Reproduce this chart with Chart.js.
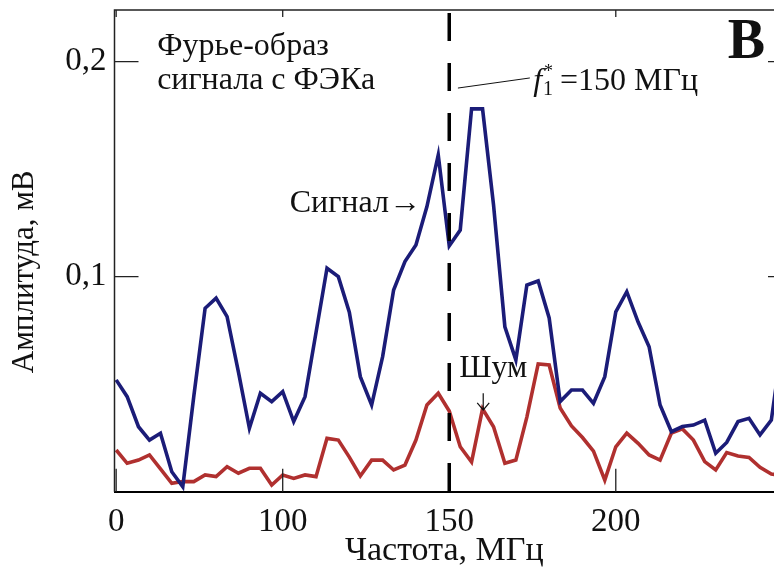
<!DOCTYPE html>
<html lang="ru">
<head>
<meta charset="utf-8">
<title>Фурье-образ сигнала с ФЭКа</title>
<script src="https://cdn.jsdelivr.net/npm/chart.js@4"></script>
<style>
  html, body { margin: 0; padding: 0; background: #ffffff; }
  #wrap { width: 774px; height: 577px; }
</style>
</head>
<body>
<div id="wrap"><canvas id="chart" width="774" height="577"></canvas></div>
<script>
// Частоты отсчётов спектра, МГц
const freq = [
  50, 53.3, 56.7, 60, 63.3, 66.7, 70, 73.3, 76.7, 80,
  83.3, 86.7, 90, 93.3, 96.7, 100, 103.3, 106.7, 110, 113.3,
  116.7, 120, 123.3, 126.7, 130, 133.3, 136.7, 140, 143.3, 146.7,
  150, 153.3, 156.7, 160, 163.3, 166.7, 170, 173.3, 176.7, 180,
  183.3, 186.7, 190, 193.3, 196.7, 200, 203.3, 206.7, 210, 213.3,
  216.7, 220, 223.3, 226.7, 230, 233.3, 236.7, 240, 243.3, 246.7,
  250
];

// Амплитуда сигнала, мВ
const signal = [
  0.0520, 0.0442, 0.0302, 0.0240, 0.0272, 0.0093, 0.0023, 0.0443, 0.0853, 0.0900,
  0.0814, 0.0557, 0.0295, 0.0458, 0.0419, 0.0465, 0.0326, 0.0442, 0.0740, 0.1039,
  0.1000, 0.0835, 0.0535, 0.0403, 0.0628, 0.0938, 0.1070, 0.1147, 0.1326, 0.1566,
  0.1143, 0.1217, 0.1780, 0.1780, 0.1333, 0.0767, 0.0613, 0.0961, 0.0980, 0.0808,
  0.0419, 0.0473, 0.0473, 0.0411, 0.0535, 0.0836, 0.0930, 0.0789, 0.0674, 0.0403,
  0.0279, 0.0303, 0.0310, 0.0333, 0.0179, 0.0229, 0.0326, 0.0341, 0.0264, 0.0333,
  0.0700
];

// Амплитуда шума, мВ
const noise = [
  0.0194, 0.0132, 0.0147, 0.0171, 0.0106, 0.0039, 0.0047, 0.0047, 0.0078, 0.0070,
  0.0116, 0.0086, 0.0109, 0.0109, 0.0031, 0.0078, 0.0062, 0.0078, 0.0070, 0.0248,
  0.0240, 0.0161, 0.0073, 0.0147, 0.0147, 0.0101, 0.0124, 0.0240, 0.0403, 0.0458,
  0.0375, 0.0209, 0.0138, 0.0385, 0.0302, 0.0132, 0.0147, 0.0347, 0.0594, 0.0589,
  0.0389, 0.0306, 0.0252, 0.0189, 0.0054, 0.0209, 0.0272, 0.0225, 0.0171, 0.0147,
  0.0273, 0.0292, 0.0240, 0.0140, 0.0101, 0.0182, 0.0166, 0.0159, 0.0113, 0.0082,
  0.0075
];

// Деления осей и их подписи
const xTickValues = [50, 100, 150, 200];
const xTickLabels = ['0', '100', '150', '200'];
const yTickValues = [0.1, 0.2];
const yTickLabels = ['0,1', '0,2'];

// Характерная частота
const fStar = 150;

const FONT = 'Liberation Serif, Times New Roman, serif';
const INK = '#111111';

const toPoints = (ys) => ys.map((y, i) => ({ x: freq[i], y }));

// Рамка, внутренние засечки, пунктир f1* и надписи
const decorations = {
  id: 'decorations',
  afterDatasetsDraw(chart) {
    const { ctx, chartArea: a, scales: { x, y } } = chart;
    ctx.save();

    // пунктирная вертикаль на f1*
    const xf = x.getPixelForValue(fStar);
    ctx.strokeStyle = '#000000';
    ctx.lineWidth = 3.5;
    ctx.setLineDash([28, 22]);
    ctx.beginPath();
    ctx.moveTo(xf, a.top + 3);
    ctx.lineTo(xf, a.bottom);
    ctx.stroke();
    ctx.setLineDash([]);

    // рамка: верх и лево (низ рисует ось X)
    ctx.strokeStyle = '#222222';
    ctx.lineWidth = 1.5;
    ctx.beginPath();
    ctx.moveTo(a.left, a.bottom);
    ctx.lineTo(a.left, a.top);
    ctx.lineTo(a.right, a.top);
    ctx.stroke();

    // засечки внутрь области графика
    ctx.lineWidth = 1.3;
    ctx.beginPath();
    xTickValues.forEach(v => {
      if (v === fStar || v === x.min) return;
      const px = x.getPixelForValue(v);
      ctx.moveTo(px, a.bottom);
      ctx.lineTo(px, a.bottom - 23);
      ctx.moveTo(px, a.top);
      ctx.lineTo(px, a.top + 7);
    });
    yTickValues.forEach(v => {
      const py = y.getPixelForValue(v);
      ctx.moveTo(a.left, py);
      ctx.lineTo(a.left + 24, py);
      ctx.moveTo(a.right, py);
      ctx.lineTo(a.right - 6, py);
    });
    ctx.stroke();

    ctx.fillStyle = INK;
    ctx.textBaseline = 'alphabetic';
    ctx.textAlign = 'left';

    // заголовок в углу
    ctx.font = `32px ${FONT}`;
    ctx.fillText('Фурье-образ', x.getPixelForValue(62.3), y.getPixelForValue(0.2031));
    ctx.fillText('сигнала с ФЭКа', x.getPixelForValue(62.3), y.getPixelForValue(0.1873));

    // подпись кривой сигнала
    ctx.textAlign = 'right';
    ctx.fillText('Сигнал\u2192', x.getPixelForValue(141.5), y.getPixelForValue(0.1302));

    // подпись кривой шума со стрелкой
    ctx.textAlign = 'left';
    ctx.fillText('Шум', x.getPixelForValue(153.0), y.getPixelForValue(0.0535));
    const ax = x.getPixelForValue(160.2);
    const ay0 = y.getPixelForValue(0.0458);
    const ay1 = y.getPixelForValue(0.0380);
    ctx.lineWidth = 1.2;
    ctx.strokeStyle = INK;
    ctx.beginPath();
    ctx.moveTo(ax, ay0);
    ctx.lineTo(ax, ay1);
    ctx.moveTo(ax - 6, ay1 - 7);
    ctx.lineTo(ax, ay1);
    ctx.lineTo(ax + 6, ay1 - 7);
    ctx.stroke();

    // выноска f1* = 150 МГц
    ctx.lineWidth = 1;
    ctx.beginPath();
    ctx.moveTo(x.getPixelForValue(152.6), y.getPixelForValue(0.1877));
    ctx.lineTo(x.getPixelForValue(174.2), y.getPixelForValue(0.1924));
    ctx.stroke();
    let tx = x.getPixelForValue(175.2);
    const ty = y.getPixelForValue(0.1868);
    ctx.font = `italic 32px ${FONT}`;
    ctx.fillText('f', tx, ty);
    tx += ctx.measureText('f').width + 1;
    ctx.font = `20px ${FONT}`;
    ctx.fillText('1', tx, ty + 5);
    ctx.font = `18px ${FONT}`;
    ctx.fillText('*', tx + 1, ty - 13);
    tx += 17;
    ctx.font = `32px ${FONT}`;
    ctx.fillText('=150 МГц', tx, ty);

    // буква панели
    ctx.font = `bold 56px ${FONT}`;
    ctx.fillText('B', x.getPixelForValue(233.6), y.getPixelForValue(0.2017));

    // подпись оси Y
    ctx.font = `31px ${FONT}`;
    ctx.translate(33, (a.top + a.bottom) / 2 + 21);
    ctx.rotate(-Math.PI / 2);
    ctx.textAlign = 'center';
    ctx.fillText('Амплитуда, мВ', 0, 0);

    ctx.restore();
  }
};

new Chart(document.getElementById('chart'), {
  type: 'line',
  data: {
    datasets: [
      {
        label: 'Сигнал',
        data: toPoints(signal),
        borderColor: '#1b1c78',
        borderWidth: 3.6,
        pointRadius: 0,
        tension: 0,
        fill: false
      },
      {
        label: 'Шум',
        data: toPoints(noise),
        borderColor: '#b0302f',
        borderWidth: 3.6,
        pointRadius: 0,
        tension: 0,
        fill: false
      }
    ]
  },
  options: {
    responsive: false,
    animation: false,
    events: [],
    layout: { padding: { top: 10, right: 0, left: 0, bottom: 0 } },
    plugins: {
      legend: { display: false },
      tooltip: { enabled: false },
      title: { display: false }
    },
    scales: {
      x: {
        type: 'linear',
        min: 49.5,
        max: 247.5,
        afterBuildTicks: (s) => { s.ticks = xTickValues.map(v => ({ value: v })); },
        afterFit: (s) => {
          s.height = 85.3;
          s.paddingLeft = 0; s.paddingRight = 0;
        },
        ticks: {
          autoSkip: false,
          maxRotation: 0,
          padding: 11,
          color: INK,
          font: { family: FONT, size: 33 },
          callback: (v) => xTickLabels[xTickValues.indexOf(v)]
        },
        grid: { display: true, drawOnChartArea: false, drawTicks: false, lineWidth: 0 },
        border: { display: true, color: '#000000', width: 2 },
        title: {
          display: true,
          text: 'Частота, МГц',
          color: INK,
          font: { family: FONT, size: 34 },
          padding: { top: 0, bottom: 6 }
        }
      },
      y: {
        type: 'linear',
        min: 0,
        max: 0.224,
        afterBuildTicks: (s) => { s.ticks = yTickValues.map(v => ({ value: v })); },
        afterFit: (s) => {
          s.width = 114.5;
          s.paddingTop = 0; s.paddingBottom = 0;
        },
        ticks: {
          padding: 8,
          color: INK,
          font: { family: FONT, size: 33 },
          callback: (v) => yTickLabels[yTickValues.indexOf(v)]
        },
        grid: { display: true, drawOnChartArea: false, drawTicks: false, lineWidth: 0 },
        border: { display: false }
      }
    }
  },
  plugins: [decorations]
});
</script>
</body>
</html>
